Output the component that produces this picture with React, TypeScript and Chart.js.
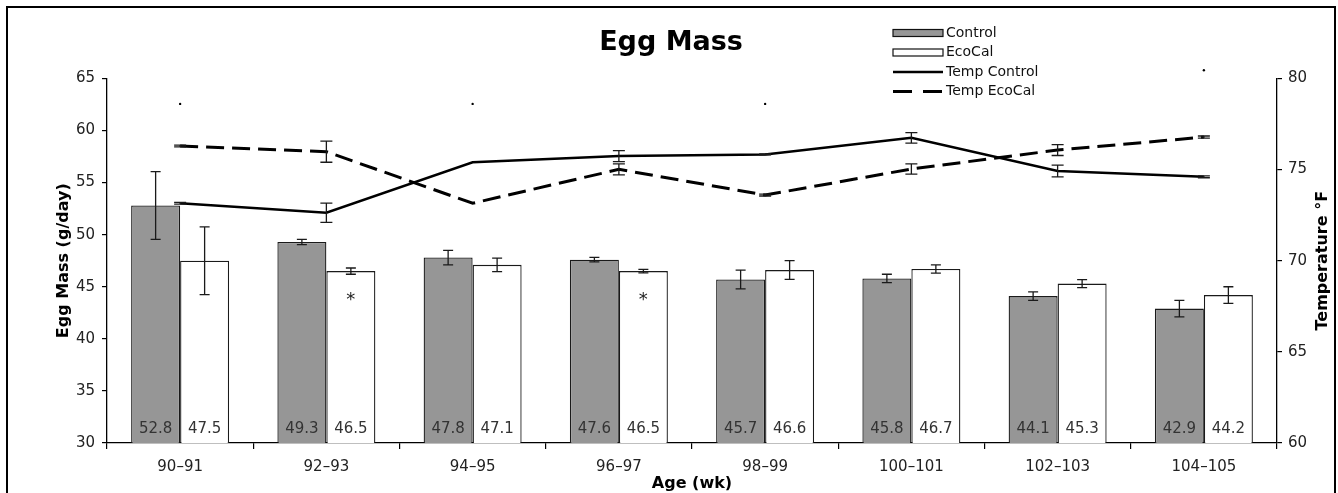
import React, { useEffect, useRef } from 'react';
import { Chart, registerables } from 'chart.js';

Chart.register(...registerables);

const categories = ['90–91', '92–93', '94–95', '96–97', '98–99', '100–101', '102–103', '104–105'];
const controlMass = [52.8, 49.3, 47.8, 47.6, 45.7, 45.8, 44.1, 42.9];
const ecoCalMass = [47.5, 46.5, 47.1, 46.5, 46.6, 46.7, 45.3, 44.2];
const controlMassErr = [3.25, 0.25, 0.7, 0.22, 0.9, 0.4, 0.4, 0.8];
const ecoCalMassErr = [3.25, 0.3, 0.65, 0.16, 0.9, 0.4, 0.38, 0.8];
const ecoCalSignificance = ['', '*', '', '*', '', '', '', ''];
const tempControl = [73.15, 72.63, 75.4, 75.74, 75.83, 76.74, 74.92, 74.6];
const tempControlErr = [0.05, 0.53, 0, 0.3, 0.03, 0.29, 0.32, 0.05];
const tempEcoCal = [76.29, 75.98, 73.15, 75.01, 73.6, 75.03, 76.07, 76.78];
const tempEcoCalErr = [0.05, 0.58, 0, 0.3, 0.05, 0.28, 0.3, 0.06];
const strayDots = [78.6, null, 78.6, null, 78.6, null, null, 80.45];
const massAxis = { min: 30, max: 65, step: 5 };
const tempAxis = { min: 60, max: 80, step: 5 };

const FONT = 'DejaVu Sans';
const GRAY = '#969696';
const DASH = [18, 8];

const errorMap: Record<string, { errs: number[]; cap: number }> = {
  Control: { errs: controlMassErr, cap: 5 },
  EcoCal: { errs: ecoCalMassErr, cap: 5 },
  'Temp Control': { errs: tempControlErr, cap: 6 },
  'Temp EcoCal': { errs: tempEcoCalErr, cap: 6 },
};

const errorBarPlugin = {
  id: 'errorBars',
  afterDatasetsDraw(chart: any) {
    const ctx = chart.ctx;
    chart.data.datasets.forEach((ds: any, i: number) => {
      const info = errorMap[ds.label];
      if (!info) return;
      const meta = chart.getDatasetMeta(i);
      const scale = chart.scales[meta.yAxisID];
      ctx.save();
      ctx.strokeStyle = '#1a1a1a';
      ctx.lineWidth = 1.3;
      meta.data.forEach((el: any, j: number) => {
        const v = ds.data[j];
        const e = info.errs[j];
        if (v == null || !e) return;
        const x = el.x;
        const yT = scale.getPixelForValue(v + e);
        const yB = scale.getPixelForValue(v - e);
        ctx.beginPath();
        ctx.moveTo(x, yT);
        ctx.lineTo(x, yB);
        ctx.moveTo(x - info.cap, yT);
        ctx.lineTo(x + info.cap, yT);
        ctx.moveTo(x - info.cap, yB);
        ctx.lineTo(x + info.cap, yB);
        ctx.stroke();
      });
      ctx.restore();
    });
    // stray dots (drawn here since they may sit outside the chart area)
    const xs = chart.scales.x;
    const ys = chart.scales.y2;
    ctx.save();
    ctx.fillStyle = '#000';
    strayDots.forEach((v, j) => {
      if (v == null) return;
      ctx.beginPath();
      ctx.arc(xs.getPixelForValue(j), ys.getPixelForValue(v), 1.2, 0, Math.PI * 2);
      ctx.fill();
    });
    ctx.restore();
  },
};

const barLabelPlugin = {
  id: 'barLabels',
  afterDatasetsDraw(chart: any) {
    const ctx = chart.ctx;
    const bottom = chart.chartArea.bottom;
    chart.data.datasets.forEach((ds: any, i: number) => {
      if (ds.type !== 'bar') return;
      const meta = chart.getDatasetMeta(i);
      ctx.save();
      meta.data.forEach((el: any, j: number) => {
        ctx.fillStyle = '#333';
        ctx.font = `15px "${FONT}"`;
        ctx.textAlign = 'center';
        ctx.textBaseline = 'middle';
        ctx.fillText(ds.data[j].toFixed(1), el.x, bottom - 14);
        if (ds.label === 'EcoCal' && ecoCalSignificance[j]) {
          ctx.fillStyle = '#222';
          ctx.font = `18px "${FONT}"`;
          ctx.textBaseline = 'alphabetic';
          ctx.fillText(ecoCalSignificance[j], el.x, el.y + 34);
        }
      });
      ctx.restore();
    });
  },
};

const sideTitlePlugin = {
  id: 'sideTitle',
  afterDraw(chart: any) {
    const ctx = chart.ctx;
    const { right, top, bottom } = chart.chartArea;
    ctx.save();
    ctx.translate(right + 46, (top + bottom) / 2);
    ctx.rotate(-Math.PI / 2);
    ctx.fillStyle = '#000';
    ctx.font = `bold 16px "${FONT}"`;
    ctx.textAlign = 'center';
    ctx.textBaseline = 'middle';
    ctx.fillText('Temperature °F', 0, 0);
    ctx.restore();
  },
};

const legendPlugin = {
  id: 'customLegend',
  afterDraw(chart: any) {
    const ctx = chart.ctx;
    const x0 = chart.chartArea.left + 786;
    const rows = [25, 44.5, 64, 83.5];
    const items = [
      { label: 'Control', kind: 'box', fill: GRAY },
      { label: 'EcoCal', kind: 'box', fill: '#fff' },
      { label: 'Temp Control', kind: 'line', dash: [] as number[] },
      { label: 'Temp EcoCal', kind: 'line', dash: [19, 11] },
    ];
    ctx.save();
    items.forEach((it, k) => {
      const y = rows[k];
      if (it.kind === 'box') {
        ctx.fillStyle = it.fill;
        ctx.fillRect(x0, y - 3.5, 50, 7);
        ctx.strokeStyle = '#111';
        ctx.lineWidth = 1.2;
        ctx.strokeRect(x0, y - 3.5, 50, 7);
      } else {
        ctx.strokeStyle = '#000';
        ctx.lineWidth = it.dash!.length ? 3 : 2.5;
        ctx.setLineDash(it.dash!);
        ctx.beginPath();
        ctx.moveTo(x0, y);
        ctx.lineTo(x0 + 50, y);
        ctx.stroke();
        ctx.setLineDash([]);
      }
      ctx.fillStyle = '#111';
      ctx.font = `14px "${FONT}"`;
      ctx.textAlign = 'left';
      ctx.textBaseline = 'middle';
      ctx.fillText(it.label, x0 + 53, y);
    });
    ctx.restore();
  },
};

export default function App() {
  const ref = useRef<HTMLCanvasElement | null>(null);

  useEffect(() => {
    document.documentElement.style.overflow = 'hidden';
    document.body.style.overflow = 'hidden';
    const canvas = ref.current;
    if (!canvas) return;
    Chart.defaults.font.family = FONT;
    const chart = new Chart(canvas, {
      data: {
        labels: categories,
        datasets: [
          {
            type: 'line',
            label: 'Temp Control',
            data: tempControl,
            yAxisID: 'y2',
            borderColor: '#000',
            borderWidth: 2.5,
            pointRadius: 0,
            tension: 0,
            order: 1,
          },
          {
            type: 'line',
            label: 'Temp EcoCal',
            data: tempEcoCal,
            yAxisID: 'y2',
            borderColor: '#000',
            borderWidth: 3,
            borderDash: DASH,
            pointRadius: 0,
            tension: 0,
            order: 1,
          },
          {
            type: 'bar',
            label: 'Control',
            data: controlMass,
            yAxisID: 'y',
            backgroundColor: GRAY,
            borderColor: '#1a1a1a',
            borderWidth: 1.3,
            barPercentage: 1,
            categoryPercentage: 0.67,
            order: 2,
          },
          {
            type: 'bar',
            label: 'EcoCal',
            data: ecoCalMass,
            yAxisID: 'y',
            backgroundColor: '#fff',
            borderColor: '#1a1a1a',
            borderWidth: 1.3,
            barPercentage: 1,
            categoryPercentage: 0.67,
            order: 2,
          },
        ],
      } as any,
      options: {
        responsive: false,
        animation: false,
        devicePixelRatio: 1,
        layout: { padding: 0 },
        plugins: {
          legend: { display: false },
          tooltip: { enabled: false },
          title: {
            display: true,
            text: 'Egg Mass',
            color: '#000',
            font: { size: 27, weight: 'bold', family: FONT },
            padding: { top: 19, bottom: 19 },
          },
        },
        scales: {
          x: {
            type: 'category',
            offset: true,
            grid: { display: true, drawOnChartArea: false, offset: true, tickLength: 6, color: '#000', lineWidth: 1.2 },
            border: { color: '#000', width: 1.3 },
            ticks: { color: '#222', font: { size: 15, family: FONT }, padding: 9, maxRotation: 0, autoSkip: false },
            title: {
              display: true,
              text: 'Age (wk)',
              color: '#000',
              font: { size: 16, weight: 'bold', family: FONT },
              padding: { top: 0, bottom: 0 },
            },
            afterFit: (s: any) => { s.height = 50; },
          },
          y: {
            type: 'linear',
            position: 'left',
            min: massAxis.min,
            max: massAxis.max,
            ticks: { stepSize: massAxis.step, color: '#222', font: { size: 15, family: FONT }, padding: 7 },
            grid: { display: true, drawOnChartArea: false, tickLength: 5, color: '#000', lineWidth: 1.2 },
            border: { color: '#000', width: 1.3 },
            title: {
              display: true,
              text: 'Egg Mass (g/day)',
              color: '#000',
              font: { size: 16, weight: 'bold', family: FONT },
              padding: { top: 46, bottom: 0 },
            },
            afterFit: (s: any) => { s.width = 99; },
          },
          y2: {
            type: 'linear',
            position: 'right',
            min: tempAxis.min,
            max: tempAxis.max,
            ticks: { stepSize: tempAxis.step, color: '#222', font: { size: 15, family: FONT }, padding: 6 },
            grid: { display: true, drawOnChartArea: false, tickLength: 5, color: '#000', lineWidth: 1.2 },
            border: { color: '#000', width: 1.3 },
            afterFit: (s: any) => { s.width = 57; },
          },
        },
      } as any,
      plugins: [errorBarPlugin, barLabelPlugin, sideTitlePlugin, legendPlugin],
    });
    return () => chart.destroy();
  }, []);

  return (
    <div style={{ position: 'relative', width: 1326, height: 485 }}>
      <canvas ref={ref} width={1326} height={485} style={{ display: 'block', width: 1326, height: 485 }} />
      <div
        style={{
          position: 'fixed',
          left: 6,
          top: 6,
          width: 1330,
          height: 520,
          boxSizing: 'border-box',
          border: '2px solid #000',
          pointerEvents: 'none',
        }}
      />
    </div>
  );
}
